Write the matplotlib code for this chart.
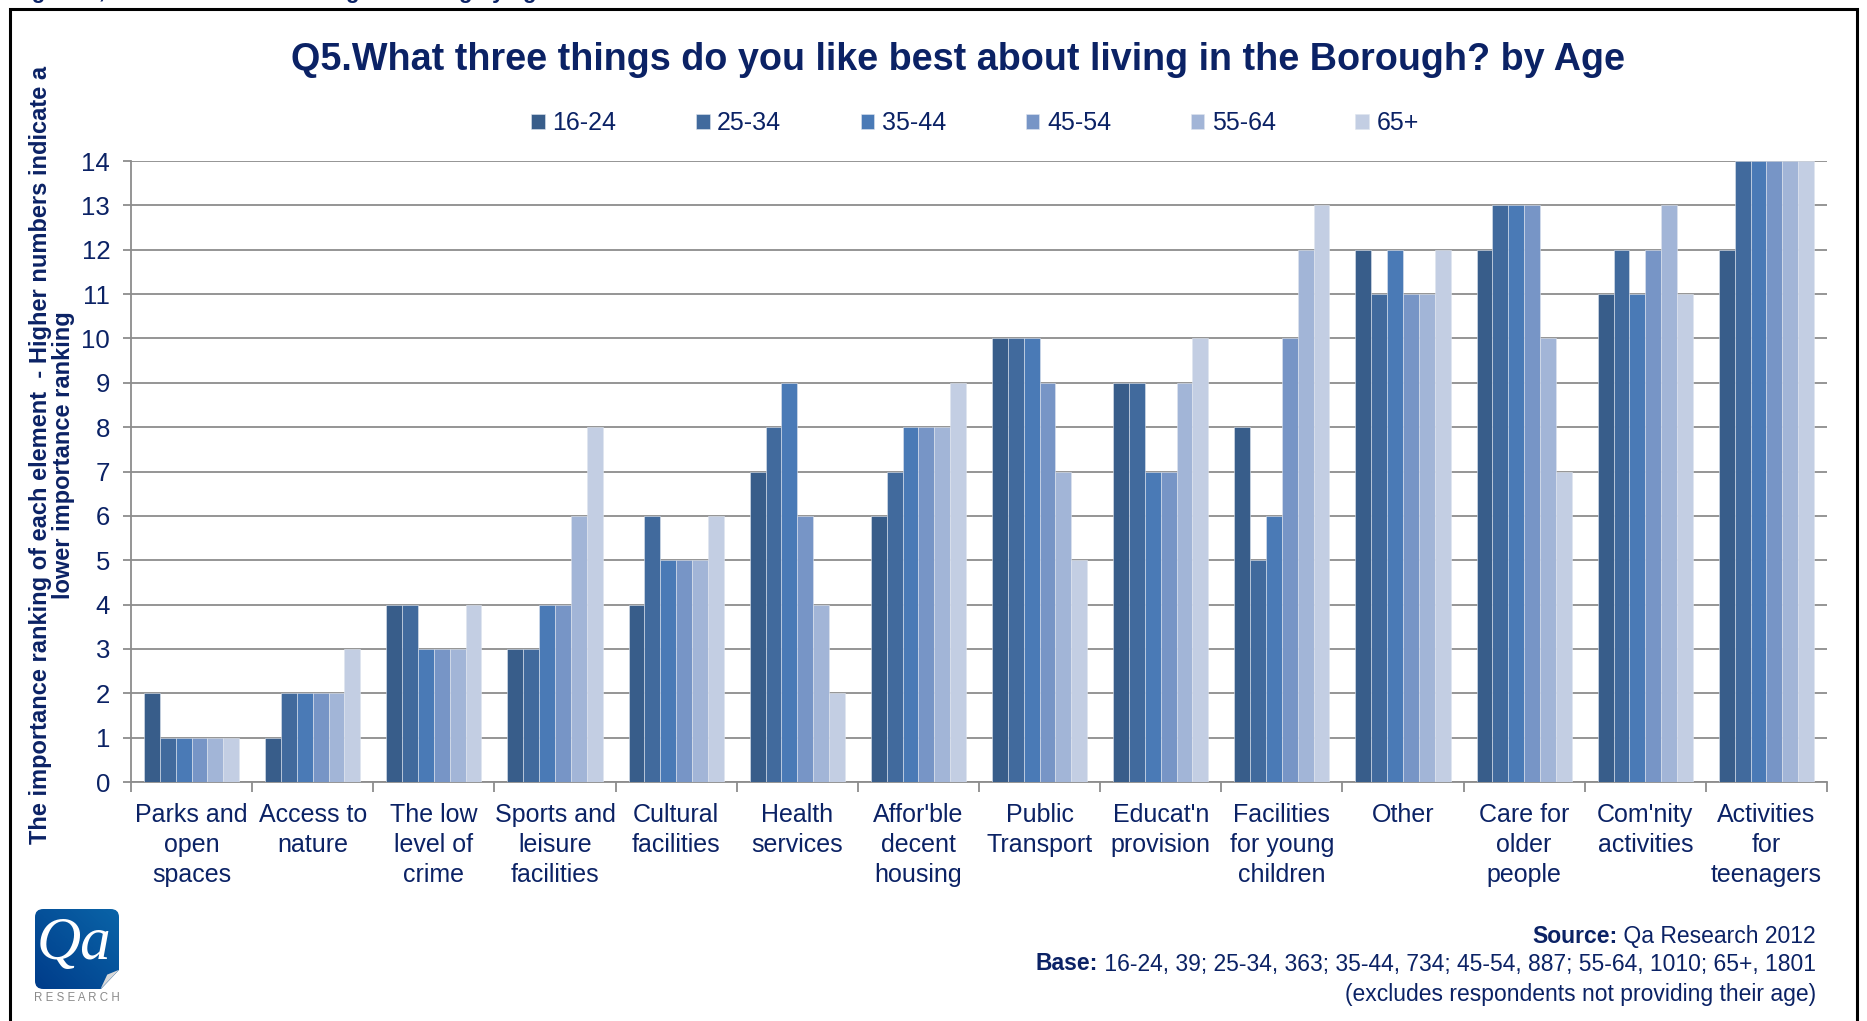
import numpy as np
import matplotlib
matplotlib.use('Agg')
import matplotlib.pyplot as plt
from matplotlib.patches import FancyBboxPatch, Polygon, Rectangle
from matplotlib.colors import LinearSegmentedColormap

categories = ['Parks and\nopen\nspaces', 'Access to\nnature', 'The low\nlevel of\ncrime',
              'Sports and\nleisure\nfacilities', 'Cultural\nfacilities', 'Health\nservices',
              "Affor'ble\ndecent\nhousing", 'Public\nTransport', "Educat'n\nprovision",
              'Facilities\nfor young\nchildren', 'Other', 'Care for\nolder\npeople',
              "Com'nity\nactivities", 'Activities\nfor\nteenagers']
age_groups = ['16-24', '25-34', '35-44', '45-54', '55-64', '65+']
rank_16_24 = [2, 1, 4, 3, 4, 7, 6, 10, 9, 8, 12, 12, 11, 12]
rank_25_34 = [1, 2, 4, 3, 6, 8, 7, 10, 9, 5, 11, 13, 12, 14]
rank_35_44 = [1, 2, 3, 4, 5, 9, 8, 10, 7, 6, 12, 13, 11, 14]
rank_45_54 = [1, 2, 3, 4, 5, 6, 8, 9, 7, 10, 11, 13, 12, 14]
rank_55_64 = [1, 2, 3, 6, 5, 4, 8, 7, 9, 12, 11, 10, 13, 14]
rank_65_plus = [1, 3, 4, 8, 6, 2, 9, 5, 10, 13, 12, 7, 11, 14]
ranks = [rank_16_24, rank_25_34, rank_35_44, rank_45_54, rank_55_64, rank_65_plus]
colors = ['#385d8a', '#416a9d', '#4a7ab6', '#7795c6', '#a2b5d7', '#c3cee3']

NAVY = '#0b2265'
GRID = '#8c8c8c'
SANS = ['Liberation Sans', 'DejaVu Sans']

W, H = 1867, 1021
fig = plt.figure(figsize=(W / 100, H / 100), dpi=100)
ax = fig.add_axes([131 / W, 1 - 782 / H, (1827 - 131) / W, (782 - 161) / H])

x = np.arange(len(categories))
group = 0.785
bw = group / len(age_groups)
for i, (vals, c, lab) in enumerate(zip(ranks, colors, age_groups)):
    ax.bar(x - group / 2 + bw * (i + 0.5), vals, width=bw, color=c, label=lab,
           edgecolor='#dfe5ef', linewidth=0.4, zorder=3)

ax.set_xlim(-0.5, len(categories) - 0.5)
ax.set_ylim(0, 14)
ax.set_yticks(range(0, 15))
ax.yaxis.grid(True, color=GRID, linewidth=1.3, zorder=0)
ax.set_axisbelow(True)
for s in ['top', 'right']:
    ax.spines[s].set_visible(False)
for s in ['left', 'bottom']:
    ax.spines[s].set_color(GRID)
    ax.spines[s].set_linewidth(1.3)
ax.tick_params(axis='y', direction='out', length=6, width=1.3, color=GRID, pad=9,
               labelsize=18.5, labelcolor=NAVY)
for t in ax.get_yticklabels():
    t.set_family(SANS)

ax.set_xticks(x)
ax.set_xticklabels(categories, family=SANS, fontsize=18, color=NAVY, linespacing=1.33,
                   va='top')
ax.set_xticks(np.arange(-0.5, len(categories)), minor=True)
ax.tick_params(axis='x', which='major', length=0, pad=15)
ax.tick_params(axis='x', which='minor', direction='out', length=7, width=1.3, color=GRID)

# title, axis label and legend
fig.text(958 / W, 1 - 60 / H, 'Q5.What three things do you like best about living in the Borough? by Age',
         ha='center', va='center', fontsize=27.2, fontweight='bold', family=SANS, color=NAVY)
fig.text(52 / W, 1 - 455 / H,
         'The importance ranking of each element  - Higher numbers indicate a\nlower importance ranking',
         rotation=90, ha='center', va='center', multialignment='center', fontsize=17,
         fontweight='bold', family=SANS, color=NAVY, linespacing=1.0)
fig.text(12 / W, 1.0016, 'Figure 5; Likes about the Borough - ranking by age', ha='left',
         va='baseline', fontsize=16, fontweight='bold', family=SANS, color=NAVY)

handles, labels = ax.get_legend_handles_labels()
leg = fig.legend(handles, labels, loc='center left', bbox_to_anchor=(531 / W, 1 - 123 / H), ncol=6,
                 frameon=False, handlelength=0.55, handleheight=0.55, handletextpad=0.3,
                 columnspacing=3.18, borderpad=0, borderaxespad=0,
                 prop={'family': SANS, 'size': 18})
for t in leg.get_texts():
    t.set_color(NAVY)

# source and base notes, bold lead-in followed by regular text
fig.canvas.draw()
renderer = fig.canvas.get_renderer()
notes = [('Source:', ' Qa Research 2012', 936),
         ('Base:', ' 16-24, 39; 25-34, 363; 35-44, 734; 45-54, 887; 55-64, 1010; 65+, 1801', 964),
         ('', '(excludes respondents not providing their age)', 994)]
for bold, rest, ypx in notes:
    t = fig.text(1816 / W, 1 - ypx / H, rest, ha='right', va='center', fontsize=16.5,
                 family=SANS, color=NAVY)
    if bold:
        wpx = t.get_window_extent(renderer).width
        fig.text((1816 - wpx) / W, 1 - ypx / H, bold, ha='right', va='center', fontsize=16.5,
                 family=SANS, fontweight='bold', color=NAVY)

# Qa Research logo
lax = fig.add_axes([35 / W, 1 - 989 / H, 84 / W, 80 / H])
lax.set_axis_off()
lax.set_xlim(0, 1)
lax.set_ylim(0, 1)
cmap = LinearSegmentedColormap.from_list('qa', ['#003c8a', '#0a64a8'])
gx, gy = np.meshgrid(np.linspace(0, 1, 64), np.linspace(0, 1, 64))
im = lax.imshow((gx + gy) / 2, extent=[0, 1, 0, 1], origin='lower', cmap=cmap, aspect='auto')
box = FancyBboxPatch((0, 0), 1, 1, boxstyle='round,pad=0,rounding_size=0.1', fc='none', ec='none',
                     transform=lax.transAxes)
lax.add_patch(box)
im.set_clip_path(box)
lax.add_patch(Polygon([[0.78, 0.0], [1.0, 0.0], [1.0, 0.24]], closed=True, fc='white', ec='none'))
lax.add_patch(Polygon([[0.78, 0.0], [1.0, 0.24], [0.86, 0.18]], closed=True, fc='#d8d8d8', ec='none'))
lax.text(0.47, 0.56, 'Qa', ha='center', va='center', fontsize=44, color='white',
         family=['Liberation Serif', 'DejaVu Serif'], style='italic')
fig.text(77 / W, 1 - 998 / H, 'R E S E A R C H', ha='center', va='center', fontsize=8.3,
         color='#8a8a8a', family=SANS)

# outer frame, open at the bottom edge
fig.add_artist(Rectangle((9.5 / W, -0.05), (1857 - 9.5) / W, 1.05 - 9.5 / H,
                         transform=fig.transFigure, fill=False, ec='black', lw=2.2))

fig.savefig('out.png', dpi=100)
